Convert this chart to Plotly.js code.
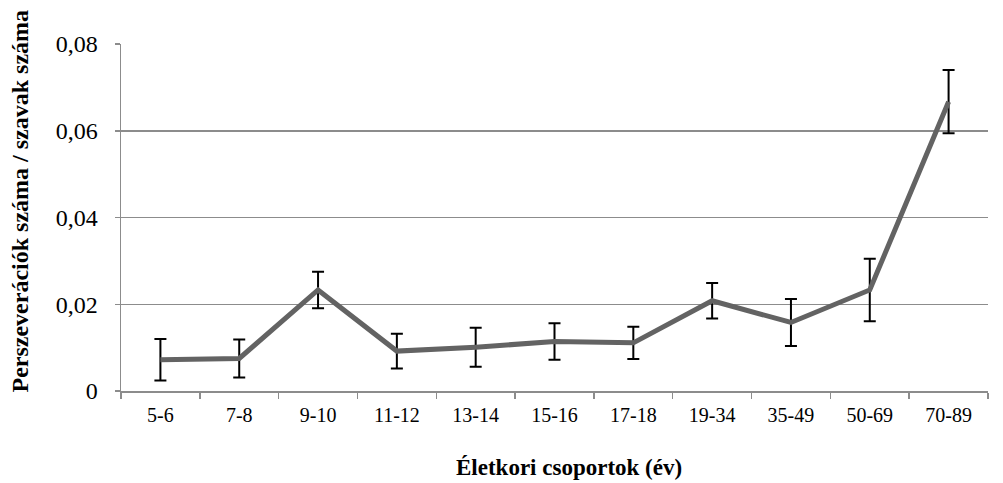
<!DOCTYPE html>
<html>
<head>
<meta charset="utf-8">
<script src="https://cdn.plot.ly/plotly-3.0.1.min.js"></script>
<style>html,body{margin:0;padding:0;background:#fff;}#chart{width:1003px;height:483px;}</style>
</head>
<body>
<div id="chart"></div>
<script>
const categories = ['5-6','7-8','9-10','11-12','13-14','15-16','17-18','19-34','35-49','50-69','70-89'];
const values = [0.0072, 0.0075, 0.0233, 0.0092, 0.0101, 0.0114, 0.0111, 0.0208, 0.0158, 0.0233, 0.0667];
const errors = [0.0048, 0.0044, 0.0042, 0.0040, 0.0045, 0.0042, 0.0037, 0.0041, 0.0054, 0.0072, 0.0073];
const yTickVals = [0, 0.02, 0.04, 0.06, 0.08];
const yTickText = ['0', '0,02', '0,04', '0,06', '0,08'];
const xTitle = 'Életkori csoportok (év)';
const yTitle = 'Perszeverációk száma / szavak száma';

const serif = 'Liberation Serif, Times New Roman, serif';

const trace = {
  x: categories,
  y: values,
  type: 'scatter',
  mode: 'lines',
  line: {color: '#636363', width: 5},
  error_y: {type: 'data', array: errors, visible: true, color: '#000000', thickness: 2, width: 6},
  hoverinfo: 'skip'
};

const layout = {
  width: 1003, height: 483,
  margin: {l: 121, r: 15, t: 44, b: 92},
  paper_bgcolor: '#ffffff', plot_bgcolor: '#ffffff',
  showlegend: false,
  font: {family: serif, color: '#000'},
  xaxis: {
    type: 'category',
    tickson: 'boundaries',
    ticks: 'outside', ticklen: 6, tickcolor: '#8c8c8c', tickwidth: 1.5,
    ticklabelstandoff: 5,
    showline: true, linecolor: '#8c8c8c', linewidth: 1.5,
    showgrid: false, zeroline: false,
    tickfont: {size: 20, family: serif},
    range: [-0.5, 10.5]
  },
  yaxis: {
    range: [0, 0.08],
    tickvals: yTickVals, ticktext: yTickText,
    ticks: 'outside', ticklen: 5, tickcolor: '#8c8c8c', tickwidth: 1.5,
    ticklabelstandoff: 12,
    showline: true, linecolor: '#8c8c8c', linewidth: 1.5,
    showgrid: true, gridcolor: '#8c8c8c', gridwidth: 1.5,
    zeroline: false,
    tickfont: {size: 24, family: serif}
  },
  annotations: [
    {text: xTitle, xref: 'paper', yref: 'paper', x: 0.5, y: 0, xanchor: 'center', yanchor: 'middle',
     xshift: 14, yshift: -76, showarrow: false, font: {size: 23, family: serif, weight: 'bold'}},
    {text: yTitle, xref: 'paper', yref: 'paper', x: 0, y: 0.5, xanchor: 'center', yanchor: 'middle',
     xshift: -102, yshift: 16, textangle: -90, showarrow: false, font: {size: 24, family: serif, weight: 'bold'}}
  ]
};

Plotly.newPlot('chart', [trace], layout, {staticPlot: true, displayModeBar: false});
</script>
</body>
</html>
